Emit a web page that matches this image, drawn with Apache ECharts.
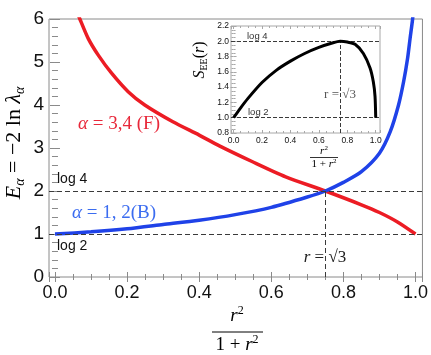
<!DOCTYPE html>
<html><head><meta charset="utf-8">
<script src="https://cdn.jsdelivr.net/npm/echarts@6/dist/echarts.min.js"></script>
<style>html,body{margin:0;padding:0;background:#fff}#c{width:431px;height:355px}</style>
</head><body><div id="c"></div>
<script>
// ---- data ----
const blueX = [0, 0.1, 0.2, 0.3, 0.4, 0.5, 0.6, 0.7, 0.75, 0.8, 0.85, 0.9, 0.93, 0.953, 0.967, 0.978, 0.985, 0.992, 0.995];
const blueY = [1.00, 1.05, 1.12, 1.22, 1.32, 1.45, 1.62, 1.86, 2.00, 2.20, 2.45, 2.88, 3.38, 4.00, 4.54, 5.08, 5.55, 6.00, 6.35];
const redX = [0.055, 0.069, 0.092, 0.12, 0.157, 0.203, 0.249, 0.327, 0.4, 0.456, 0.548, 0.64, 0.75, 0.85, 0.9, 0.95, 1.0];
const redY = [6.30, 6.00, 5.55, 5.16, 4.74, 4.31, 4.00, 3.61, 3.30, 3.05, 2.68, 2.33, 2.00, 1.68, 1.50, 1.28, 1.00];
const insetX = [0, 0.05, 0.1, 0.2, 0.3, 0.4, 0.5, 0.6, 0.7, 0.75, 0.8, 0.855, 0.913, 0.96, 0.983, 0.995, 1.0];
const insetY = [1.00, 1.13, 1.25, 1.46, 1.62, 1.74, 1.84, 1.92, 1.98, 2.00, 1.99, 1.96, 1.84, 1.65, 1.47, 1.28, 1.00];
const refLevels = [2, 1];          // log 4, log 2
const crossX = 0.75;               // r = sqrt(3)
const mainTicksY = [0, 6];
const insetTicksY = [0.8, 2.2];

const zip = (xs, ys) => xs.map((x, i) => [x, ys[i]]);

const serif = '"Liberation Serif", "Times New Roman", serif';
const sans = '"Liberation Sans", Arial, sans-serif';
const RED = '#ec1c24', BLUE = '#1f42e8', RED_T = '#e8283a', BLUE_T = '#3b6cf0';
const FRAME = '#8a8a8a', FRAME2 = '#a8a8a8', DASH = '#3a3a3a';

const fmt02 = v => (Math.abs(v / 0.2 - Math.round(v / 0.2)) < 1e-6 ? v.toFixed(1) : '');

function xAx(grid, pos, min, max, label, fs, tl, ml, col, margin) {
  return {
    type: 'value', gridIndex: grid, position: pos, min: min, max: max,
    axisLine: {show: false}, splitLine: {show: false},
    axisTick: {show: true, inside: true, length: tl, lineStyle: {color: col}},
    minorTick: {show: true, splitNumber: 4, length: ml, lineStyle: {color: col}},
    axisLabel: {show: label, formatter: fmt02, fontSize: fs, fontFamily: sans, color: '#111', margin: margin,
      showMinLabel: true, showMaxLabel: true, hideOverlap: false}
  };
}
function yAx(grid, pos, min, max, interval, split, label, fs, tl, ml, col, margin, dec) {
  return {
    type: 'value', gridIndex: grid, position: pos, min: min, max: max, interval: interval,
    axisLine: {show: false}, splitLine: {show: false},
    axisTick: {show: true, inside: true, length: tl, lineStyle: {color: col}},
    minorTick: {show: true, splitNumber: split, length: ml, lineStyle: {color: col}},
    axisLabel: {show: label, formatter: v => v.toFixed(dec), fontSize: fs, fontFamily: sans, color: '#111', margin: margin}
  };
}

const dashStyle = {color: DASH, width: 1, type: [5, 3]};
const SM = 0.25;

const option = {
  animation: false,
  grid: [
    {left: 49, top: 19, width: 375, height: 258, show: true, borderColor: FRAME, borderWidth: 1, backgroundColor: 'transparent'},
    {left: 231, top: 26, width: 149, height: 107, show: true, borderColor: FRAME2, borderWidth: 1, backgroundColor: '#fff'}
  ],
  xAxis: [
    xAx(0, 'bottom', -0.0166, 1.0193, true, 18, 5, 3, FRAME, 7),
    xAx(0, 'top', -0.0166, 1.0193, false, 18, 5, 3, FRAME, 7),
    xAx(1, 'bottom', -0.018, 1.03, true, 8.5, 3, 2, FRAME2, 3),
    xAx(1, 'top', -0.018, 1.03, false, 8.5, 3, 2, FRAME2, 3)
  ],
  yAxis: [
    yAx(0, 'left', mainTicksY[0], mainTicksY[1], 1, 5, true, 19, 5, 3, FRAME, 5, 0),
    yAx(0, 'right', mainTicksY[0], mainTicksY[1], 1, 5, false, 19, 5, 3, FRAME, 5, 0),
    yAx(1, 'left', insetTicksY[0], insetTicksY[1], 0.2, 4, true, 8.5, 3, 2, FRAME2, 2, 1),
    yAx(1, 'right', insetTicksY[0], insetTicksY[1], 0.2, 4, false, 8.5, 3, 2, FRAME2, 2, 1)
  ],
  series: [
    {type: 'line', xAxisIndex: 0, yAxisIndex: 0, data: [], z: 1, silent: true,
      markLine: {silent: true, symbol: 'none', label: {show: false}, lineStyle: dashStyle, animation: false,
        data: [{yAxis: refLevels[0]}, {yAxis: refLevels[1]}, [{coord: [crossX, 0]}, {coord: [crossX, refLevels[0]]}]]}},
    {type: 'line', name: 'F', xAxisIndex: 0, yAxisIndex: 0, data: zip(redX, redY), showSymbol: false, smooth: SM,
      clip: true, lineStyle: {color: RED, width: 3.5}, itemStyle: {color: RED}, z: 3},
    {type: 'line', name: 'B', xAxisIndex: 0, yAxisIndex: 0, data: zip(blueX, blueY), showSymbol: false, smooth: SM,
      clip: true, lineStyle: {color: BLUE, width: 3.5}, itemStyle: {color: BLUE}, z: 4},
    {type: 'line', xAxisIndex: 2, yAxisIndex: 2, data: [], z: 5, silent: true,
      markLine: {silent: true, symbol: 'none', label: {show: false}, lineStyle: {color: DASH, width: 1, type: [4, 2]}, animation: false,
        data: [{yAxis: refLevels[0]}, {yAxis: refLevels[1]}, [{coord: [crossX, insetTicksY[0]]}, {coord: [crossX, refLevels[0]]}]]}},
    {type: 'line', xAxisIndex: 2, yAxisIndex: 2, data: zip(insetX, insetY), showSymbol: false, smooth: SM,
      clip: true, lineStyle: {color: '#000', width: 3}, itemStyle: {color: '#000'}, z: 6}
  ],
  graphic: [
    // main y title
    {type: 'text', x: 14, y: 143, rotation: Math.PI / 2, z: 100,
      style: {text: '{i|E}{s|α}{n| = −2 ln }{i|λ}{s|α}', align: 'center', verticalAlign: 'middle',
        rich: {
          i: {fontFamily: serif, fontStyle: 'italic', fontSize: 22, lineHeight: 26, fill: '#000'},
          n: {fontFamily: serif, fontSize: 22, lineHeight: 26, fill: '#000'},
          s: {fontFamily: serif, fontStyle: 'italic', fontSize: 14, lineHeight: 14, verticalAlign: 'bottom', fill: '#000'}
        }}},
    // main x title (fraction)
    {type: 'text', x: 237, y: 316, z: 100,
      style: {text: '{i|r}{p|2}', align: 'center', verticalAlign: 'middle',
        rich: {i: {fontFamily: serif, fontStyle: 'italic', fontSize: 19, lineHeight: 22, fill: '#000'},
               p: {fontFamily: serif, fontSize: 12, lineHeight: 12, verticalAlign: 'top', fill: '#000'}}}},
    {type: 'line', z: 100, shape: {x1: 212, y1: 332, x2: 263, y2: 332}, style: {stroke: '#000', lineWidth: 1}},
    {type: 'text', x: 237, y: 345, z: 100,
      style: {text: '{n|1 + }{i|r}{p|2}', align: 'center', verticalAlign: 'middle',
        rich: {n: {fontFamily: serif, fontSize: 19, lineHeight: 22, fill: '#000'},
               i: {fontFamily: serif, fontStyle: 'italic', fontSize: 19, lineHeight: 22, fill: '#000'},
               p: {fontFamily: serif, fontSize: 12, lineHeight: 12, verticalAlign: 'top', fill: '#000'}}}},
    // curve labels
    {type: 'text', x: 119, y: 124, z: 100,
      style: {text: '{i|α}{n| = 3,4 (F)}', align: 'center', verticalAlign: 'middle',
        rich: {i: {fontFamily: serif, fontStyle: 'italic', fontSize: 19, fill: RED_T},
               n: {fontFamily: serif, fontSize: 19, fill: RED_T}}}},
    {type: 'text', x: 114, y: 213, z: 100,
      style: {text: '{i|α}{n| = 1, 2(B)}', align: 'center', verticalAlign: 'middle',
        rich: {i: {fontFamily: serif, fontStyle: 'italic', fontSize: 19, fill: BLUE_T},
               n: {fontFamily: serif, fontSize: 19, fill: BLUE_T}}}},
    {type: 'text', x: 57, y: 179, z: 100, style: {text: 'log 4', font: '14px ' + sans, fill: '#111', align: 'left', verticalAlign: 'middle'}},
    {type: 'text', x: 57, y: 246, z: 100, style: {text: 'log 2', font: '14px ' + sans, fill: '#111', align: 'left', verticalAlign: 'middle'}},
    {type: 'text', x: 325, y: 258, z: 100,
      style: {text: '{i|r}{n| = √3}', align: 'center', verticalAlign: 'middle',
        rich: {i: {fontFamily: serif, fontStyle: 'italic', fontSize: 17, fill: '#222'},
               n: {fontFamily: serif, fontSize: 17, fill: '#222'}}}},
    // inset texts
    {type: 'text', x: 247, y: 36, z: 100, style: {text: 'log 4', font: '9.5px ' + sans, fill: '#333', align: 'left', verticalAlign: 'middle'}},
    {type: 'text', x: 248, y: 112, z: 100, style: {text: 'log 2', font: '9.5px ' + sans, fill: '#333', align: 'left', verticalAlign: 'middle'}},
    {type: 'text', x: 340, y: 95, z: 100,
      style: {text: '{n|r = √3}', align: 'center', verticalAlign: 'middle',
        rich: {n: {fontFamily: serif, fontSize: 13, fill: '#555'}}}},
    {type: 'text', x: 200, y: 60, rotation: Math.PI / 2, z: 100,
      style: {text: '{i|S}{s|EE}{n|(}{i|r}{n|)}', align: 'center', verticalAlign: 'middle',
        rich: {i: {fontFamily: serif, fontStyle: 'italic', fontSize: 16, lineHeight: 19, fill: '#000'},
               n: {fontFamily: serif, fontSize: 16, lineHeight: 19, fill: '#000'},
               s: {fontFamily: serif, fontSize: 10, lineHeight: 10, verticalAlign: 'bottom', fill: '#000'}}}},
    {type: 'text', x: 324, y: 151, z: 100,
      style: {text: '{i|r}{p|2}', align: 'center', verticalAlign: 'middle',
        rich: {i: {fontFamily: serif, fontStyle: 'italic', fontSize: 11, lineHeight: 12, fill: '#000'},
               p: {fontFamily: serif, fontSize: 7, lineHeight: 7, verticalAlign: 'top', fill: '#000'}}}},
    {type: 'line', z: 100, shape: {x1: 310, y1: 157.5, x2: 338, y2: 157.5}, style: {stroke: '#000', lineWidth: 0.8}},
    {type: 'text', x: 324, y: 164, z: 100,
      style: {text: '{n|1 + }{i|r}{p|2}', align: 'center', verticalAlign: 'middle',
        rich: {n: {fontFamily: serif, fontSize: 11, lineHeight: 12, fill: '#000'},
               i: {fontFamily: serif, fontStyle: 'italic', fontSize: 11, lineHeight: 12, fill: '#000'},
               p: {fontFamily: serif, fontSize: 7, lineHeight: 7, verticalAlign: 'top', fill: '#000'}}}}
  ]
};
const chart = echarts.init(document.getElementById('c'), null, {renderer: 'canvas', width: 431, height: 355});
chart.setOption(option);
</script>
</body></html>
